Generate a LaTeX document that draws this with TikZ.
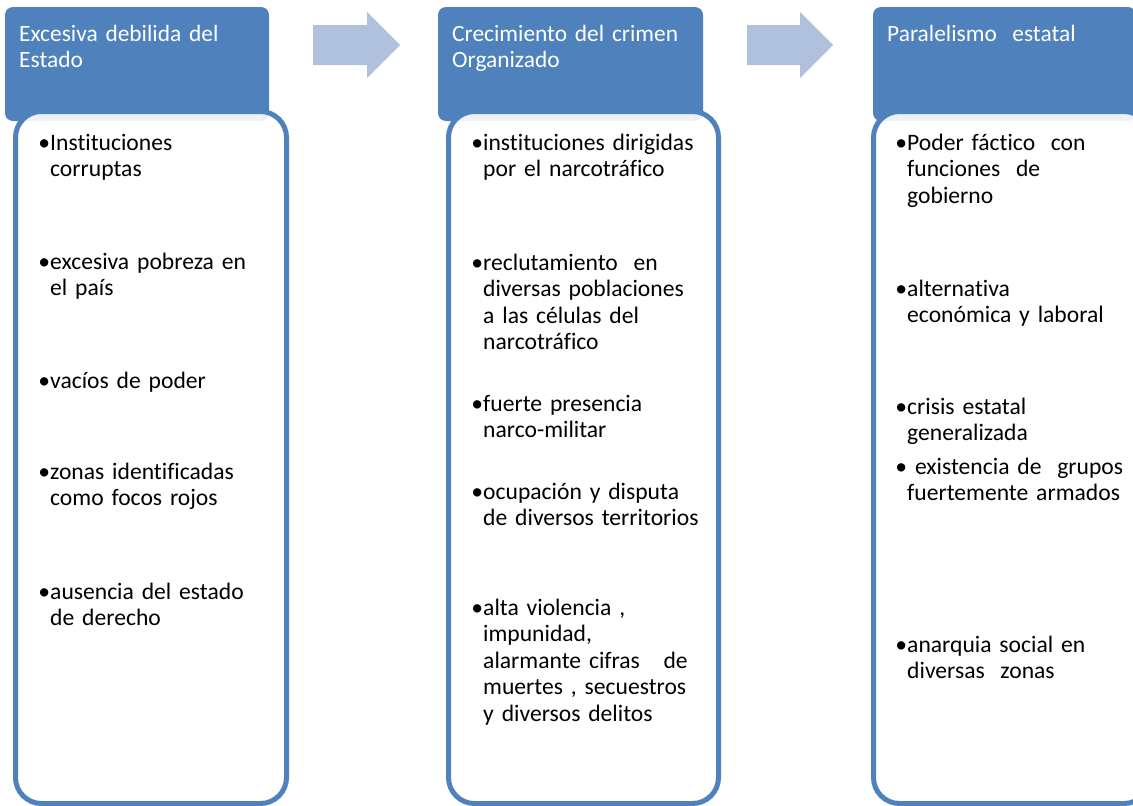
\documentclass[tikz,border=0pt]{standalone}
\usepackage{fontspec}
\setmainfont[Ligatures=NoCommon, WordSpace=0.75]{Carlito}
\definecolor{hdr}{HTML}{4F81BD}
\definecolor{arr}{HTML}{B0C1DE}
\begin{document}
\begin{tikzpicture}[x=1pt,y=-1pt,
  hdrbox/.style={fill=hdr, rounded corners=8pt},
  itembox/.style={draw=hdr, line width=5pt, fill=white, fill opacity=0.9, rounded corners=26pt},
  blockarrow/.style={fill=arr},
  title/.style={anchor=base west, inner sep=0pt, text=white, text width=250pt, align=left,
                font=\fontsize{23.4pt}{26pt}\selectfont},
  item/.style={anchor=base west, inner sep=0pt, text=black, text width=250pt, align=left,
               font=\fontsize{23.6pt}{26.5pt}\selectfont}]
\useasboundingbox (0,0) rectangle (1133,806);
\clip (0,0) rectangle (1133,806);
% headers
\path[hdrbox] (5,7) rectangle (269,121);
\path[hdrbox] (438,7) rectangle (703,121);
\path[hdrbox] (873,7) rectangle (1136,121);
% content boxes
\path[itembox] (15.5,111.5) rectangle (286.5,803.5);
\path[itembox] (448.5,111.5) rectangle (718.5,803.5);
\path[itembox] (873.5,111.5) rectangle (1150,803.5);
% block arrows
\fill[blockarrow] (313,25) -- (367,25) -- (367,12) -- (400,45) -- (367,78) -- (367,65) -- (313,65) -- cycle;
\fill[blockarrow] (747,25) -- (800,25) -- (800,12) -- (833,45) -- (800,78) -- (800,65) -- (747,65) -- cycle;
% titles
\node[title] (t1) at (19,41) {Excesiva debilida del\\Estado};
\node[title] (t2) at (452,41) {Crecimiento del crimen\\Organizado};
\node[title] (t3) at (887,41) {Paralelismo\ \ estatal};
% column 1
\node[item] (a1) at (50,150) {\llap{•}Instituciones\\corruptas};
\node[item] (a2) at (50,269) {\llap{•}excesiva pobreza en\\el país};
\node[item] (a3) at (50,388) {\llap{•}vacíos de poder};
\node[item] (a4) at (50,479) {\llap{•}zonas identificadas\\como focos rojos};
\node[item] (a5) at (50,599) {\llap{•}ausencia del estado\\de derecho};
% column 2
\node[item] (b1) at (483,150) {\llap{•}instituciones dirigidas\\por el narcotráfico};
\node[item] (b2) at (483,270) {\llap{•}reclutamiento\ \ en\\diversas poblaciones\\a las células del\\narcotráfico};
\node[item] (b3) at (483,411) {\llap{•}fuerte presencia\\narco-militar};
\node[item] (b4) at (483,499) {\llap{•}ocupación y disputa\\de diversos territorios};
\node[item] (b5) at (483,615) {\llap{•}alta violencia ,\\impunidad,\\alarmante cifras\ \ \ de\\muertes , secuestros\\y diversos delitos};
% column 3
\node[item] (c1) at (907,150) {\llap{•}Poder fáctico\ \ con\\funciones\ \ de\\gobierno};
\node[item] (c2) at (907,296) {\llap{•}alternativa\\económica y laboral};
\node[item] (c3) at (907,414) {\llap{•}crisis estatal\\generalizada};
\node[item] (c4) at (907,474) {\llap{•}\ existencia de\ \ grupos\\fuertemente armados};
\node[item] (c5) at (907,652) {\llap{•}anarquia social en\\diversas\ \ zonas};
\end{tikzpicture}
\end{document}
